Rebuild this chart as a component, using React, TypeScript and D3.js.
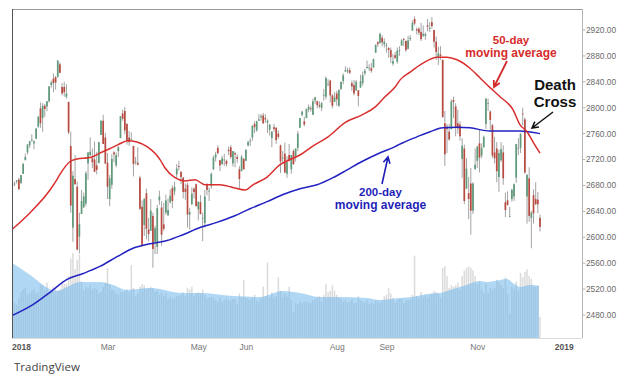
import React from "react";
import * as d3 from "d3";

// ---- Data: S&P 500 daily candles, Dec 26 2017 .. Dec 14 2018 (trading-day index -4 .. 240)
const startIndex = -4;

const opens = [
  2679, 2682, 2686, 2689,
  2684, 2698, 2719, 2731, 2742, 2751, 2745, 2752, 2771, 2799, 2784, 2803, 2802, 2810, 2835, 2845, 2847, 2848, 2867, 2832, 2832,
  2817, 2809, 2741, 2615, 2690, 2678, 2601, 2636, 2646, 2652, 2714, 2727, 2722, 2720, 2711, 2715, 2758, 2780, 2754,
  2715, 2659, 2681, 2731, 2711, 2733, 2753, 2791, 2795, 2775, 2754, 2751, 2741, 2716, 2715, 2692, 2647, 2619, 2668, 2612, 2610,
  2633, 2593, 2585, 2657, 2646, 2620, 2638, 2634, 2654, 2676, 2671, 2697, 2710, 2701, 2692, 2675, 2681, 2635, 2651, 2675, 2682,
  2643, 2654, 2629, 2622, 2681, 2671, 2679, 2705, 2723, 2738, 2719, 2713, 2720, 2718, 2735, 2739, 2714, 2730, 2724, 2705, 2702, 2721,
  2718, 2742, 2749, 2754, 2775, 2765, 2780, 2785, 2788, 2784, 2777, 2766, 2753, 2770, 2769, 2760, 2742, 2723, 2729, 2698, 2727,
  2705, 2733, 2724, 2738, 2769, 2789, 2779, 2784, 2797, 2799, 2789, 2811, 2810, 2804, 2800, 2820, 2817, 2836, 2842, 2819, 2809,
  2822, 2803, 2829, 2841, 2856, 2856, 2858, 2838, 2835, 2827, 2827, 2831, 2838, 2853, 2861, 2861, 2861, 2862, 2885, 2901, 2900, 2908, 2898,
  2897, 2892, 2889, 2868, 2881, 2871, 2889, 2896, 2906, 2903, 2891, 2906, 2919, 2937, 2921, 2922, 2917, 2911, 2911,
  2927, 2923, 2932, 2920, 2902, 2877, 2882, 2874, 2776, 2771, 2763, 2767, 2812, 2802, 2776, 2774, 2721, 2737, 2675, 2668, 2683, 2641, 2705,
  2718, 2745, 2726, 2739, 2775, 2807, 2794, 2773, 2731, 2737, 2693, 2719, 2731, 2654, 2657, 2633, 2659, 2663, 2692, 2737, 2738,
  2791, 2782, 2663, 2691, 2630, 2665, 2659, 2658, 2630,
];
const highs = [
  2683, 2686, 2688, 2692,
  2696, 2715, 2729, 2744, 2749, 2759, 2750, 2768, 2787, 2808, 2807, 2806, 2810, 2833, 2842, 2853, 2849, 2873, 2870, 2838, 2840,
  2836, 2809, 2763, 2702, 2727, 2686, 2638, 2673, 2669, 2702, 2731, 2754, 2737, 2748, 2732, 2747, 2780, 2789, 2761,
  2730, 2696, 2728, 2733, 2731, 2741, 2787, 2797, 2801, 2776, 2764, 2762, 2741, 2724, 2739, 2695, 2657, 2661, 2675, 2630, 2659,
  2638, 2618, 2650, 2672, 2656, 2653, 2666, 2660, 2674, 2680, 2686, 2713, 2718, 2702, 2693, 2683, 2684, 2645, 2677, 2677, 2683,
  2655, 2665, 2638, 2673, 2684, 2677, 2700, 2726, 2732, 2742, 2719, 2726, 2729, 2720, 2740, 2742, 2733, 2732, 2728, 2710, 2727, 2722,
  2736, 2749, 2753, 2773, 2779, 2780, 2790, 2790, 2792, 2790, 2782, 2775, 2764, 2775, 2770, 2765, 2743, 2733, 2746, 2725, 2744,
  2727, 2736, 2737, 2764, 2784, 2795, 2786, 2799, 2805, 2803, 2814, 2817, 2811, 2810, 2809, 2829, 2848, 2844, 2843, 2821, 2824,
  2826, 2829, 2840, 2853, 2864, 2862, 2862, 2842, 2843, 2843, 2827, 2851, 2856, 2860, 2873, 2867, 2869, 2876, 2898, 2903, 2916, 2912, 2907,
  2900, 2894, 2893, 2883, 2886, 2893, 2895, 2906, 2908, 2904, 2911, 2912, 2935, 2941, 2924, 2924, 2931, 2927, 2916,
  2937, 2932, 2940, 2920, 2910, 2894, 2895, 2874, 2795, 2775, 2775, 2813, 2817, 2807, 2797, 2779, 2753, 2743, 2722, 2693, 2707, 2685, 2737,
  2741, 2767, 2745, 2757, 2815, 2814, 2796, 2775, 2755, 2747, 2735, 2747, 2742, 2669, 2671, 2647, 2675, 2683, 2744, 2753, 2760,
  2800, 2785, 2698, 2708, 2641, 2674, 2685, 2670, 2635,
];
const lows = [
  2678, 2679, 2683, 2674,
  2682, 2698, 2719, 2728, 2738, 2747, 2736, 2752, 2769, 2769, 2763, 2786, 2795, 2808, 2831, 2824, 2828, 2846, 2853, 2819, 2817,
  2814, 2759, 2638, 2593, 2681, 2580, 2575, 2636, 2646, 2648, 2689, 2725, 2707, 2701, 2697, 2714, 2758, 2744, 2713,
  2659, 2648, 2675, 2716, 2708, 2724, 2753, 2780, 2759, 2743, 2741, 2750, 2694, 2712, 2711, 2642, 2586, 2602, 2597, 2594, 2610,
  2553, 2574, 2574, 2650, 2587, 2610, 2635, 2633, 2652, 2645, 2665, 2692, 2703, 2682, 2660, 2658, 2615, 2612, 2650, 2660, 2648,
  2626, 2635, 2594, 2615, 2665, 2656, 2675, 2704, 2717, 2728, 2702, 2712, 2710, 2709, 2727, 2721, 2709, 2708, 2715, 2676, 2702, 2705,
  2718, 2740, 2741, 2749, 2761, 2763, 2780, 2780, 2775, 2777, 2761, 2757, 2739, 2763, 2744, 2752, 2699, 2713, 2699, 2692, 2717,
  2698, 2712, 2717, 2733, 2769, 2787, 2771, 2784, 2793, 2794, 2789, 2806, 2799, 2799, 2795, 2811, 2813, 2833, 2808, 2799, 2809,
  2803, 2801, 2827, 2836, 2855, 2853, 2852, 2826, 2819, 2826, 2802, 2831, 2834, 2850, 2861, 2857, 2854, 2862, 2885, 2894, 2899, 2895, 2893,
  2885, 2877, 2869, 2865, 2875, 2868, 2880, 2896, 2895, 2886, 2890, 2903, 2919, 2927, 2913, 2912, 2903, 2909, 2905,
  2918, 2917, 2922, 2893, 2874, 2866, 2874, 2784, 2710, 2730, 2749, 2767, 2784, 2756, 2760, 2749, 2692, 2651, 2675, 2628, 2604, 2636, 2705,
  2707, 2700, 2722, 2738, 2767, 2795, 2766, 2722, 2714, 2685, 2670, 2716, 2681, 2631, 2649, 2631, 2655, 2656, 2684, 2727, 2730,
  2773, 2698, 2621, 2624, 2583, 2621, 2650, 2637, 2609,
];
const closes = [
  2681, 2683, 2688, 2674,
  2696, 2713, 2724, 2743, 2748, 2751, 2748, 2768, 2786, 2776, 2803, 2798, 2810, 2833, 2839, 2838, 2839, 2873, 2854, 2822, 2824,
  2822, 2762, 2649, 2695, 2682, 2581, 2620, 2656, 2663, 2699, 2731, 2732, 2716, 2701, 2704, 2747, 2780, 2744, 2714,
  2678, 2691, 2721, 2728, 2727, 2739, 2787, 2783, 2765, 2749, 2747, 2752, 2713, 2717, 2712, 2644, 2588, 2659, 2613, 2605, 2641,
  2582, 2614, 2645, 2663, 2604, 2613, 2657, 2642, 2664, 2656, 2678, 2706, 2709, 2693, 2670, 2670, 2635, 2639, 2667, 2670, 2648,
  2655, 2636, 2630, 2663, 2673, 2672, 2698, 2723, 2728, 2730, 2711, 2722, 2720, 2713, 2733, 2724, 2733, 2728, 2721, 2690, 2724, 2705,
  2735, 2747, 2749, 2772, 2770, 2779, 2782, 2787, 2776, 2782, 2780, 2774, 2763, 2767, 2750, 2755, 2717, 2723, 2700, 2716, 2718,
  2727, 2713, 2737, 2760, 2784, 2794, 2774, 2798, 2801, 2798, 2810, 2816, 2804, 2802, 2807, 2820, 2846, 2837, 2819, 2803, 2816,
  2813, 2827, 2840, 2850, 2858, 2858, 2854, 2833, 2822, 2840, 2818, 2841, 2850, 2857, 2863, 2862, 2857, 2875, 2897, 2898, 2914, 2901, 2902,
  2897, 2889, 2878, 2872, 2877, 2888, 2889, 2904, 2905, 2889, 2904, 2908, 2931, 2930, 2919, 2916, 2906, 2914, 2914,
  2925, 2923, 2926, 2902, 2886, 2884, 2880, 2786, 2728, 2767, 2751, 2810, 2809, 2769, 2768, 2756, 2741, 2656, 2706, 2659, 2641, 2683, 2712,
  2740, 2723, 2738, 2755, 2814, 2807, 2781, 2726, 2722, 2702, 2730, 2736, 2691, 2642, 2650, 2633, 2673, 2682, 2744, 2738, 2760,
  2790, 2700, 2696, 2633, 2638, 2637, 2651, 2651, 2616,
];
// volume (billions of shares)
const volumes = [
  2.4, 2.6, 2.5, 2.9,
  3.4, 3.6, 3.7, 3.2, 3.3, 3.5, 3.6, 3.3, 3.4, 4.0, 3.9, 3.6, 4.1, 3.4, 3.4, 3.8, 3.6, 3.5, 3.6, 4.2, 4.0,
  4.0, 4.6, 5.9, 6.3, 5.1, 5.8, 6.2, 4.2, 3.5, 3.8, 3.7, 3.9, 3.6, 3.7, 3.6, 3.3, 3.4, 3.8, 4.1,
  5.2, 4.0, 3.6, 3.5, 3.3, 3.2, 3.4, 3.4, 3.5, 3.6, 3.4, 5.4, 3.7, 3.1, 3.3, 3.8, 4.0, 3.9, 3.6, 3.7, 3.8,
  3.7, 3.4, 3.5, 3.2, 3.4, 3.1, 3.3, 2.9, 3.0, 2.9, 2.9, 3.1, 3.1, 3.2, 3.4, 3.1, 3.7, 3.6, 3.8, 3.1, 3.3,
  3.4, 3.3, 3.6, 3.2, 2.9, 3.0, 3.0, 3.0, 2.8, 2.7, 3.0, 2.7, 2.8, 3.0, 2.8, 2.8, 2.9, 2.9, 2.5, 3.3, 3.0, 4.3,
  3.0, 2.9, 2.8, 3.0, 3.2, 2.8, 2.7, 3.0, 3.8, 3.1, 5.6, 3.0, 3.4, 3.0, 3.1, 4.5, 3.5, 3.0, 3.3, 3.1, 3.8,
  2.8, 1.9, 2.6, 2.5, 2.7, 2.6, 2.7, 2.7, 2.6, 2.6, 2.8, 2.9, 3.0, 3.1, 2.7, 3.2, 4.0, 3.4, 3.5, 3.9, 3.5,
  3.2, 3.0, 2.9, 2.7, 2.8, 2.6, 2.7, 2.9, 2.6, 2.6, 3.1, 2.8, 2.7, 2.6, 2.8, 2.5, 2.6, 2.5, 2.8, 2.7, 2.6, 2.8, 3.1,
  3.2, 3.7, 3.3, 3.0, 2.6, 2.8, 2.9, 2.9, 2.6, 2.8, 2.8, 2.9, 3.2, 6.1, 3.1, 2.9, 3.4, 3.0, 3.2,
  3.0, 3.2, 3.3, 3.5, 3.4, 3.3, 3.0, 5.2, 5.3, 4.6, 3.7, 3.9, 3.8, 3.9, 4.1, 3.6, 4.6, 5.0, 5.2, 5.3, 5.2, 5.0, 4.6,
  4.0, 4.2, 3.6, 3.3, 4.0, 3.3, 3.7, 3.6, 3.7, 4.3, 4.1, 3.9, 3.7, 4.5, 3.3, 1.8, 3.8, 3.6, 4.2, 3.5, 4.8,
  4.5, 4.9, 5.1, 4.6, 4.4, 3.9, 3.8, 3.9, 1.55,
];

// volume moving average (read from the shaded area)
const volMAIndex = [-4.2, 5.5, 10.2, 16.6, 21.3, 27.3, 36.5, 42.5, 49, 59.7, 74.9, 82.8, 98, 110.5, 121, 129, 138, 147.5, 160, 166, 175, 181, 187.7, 193.8, 199.8, 206, 212, 215.5, 221.5, 224.7, 227.5, 230.8, 235.4, 239.5];
const volMAValue = [5.56, 4.52, 3.93, 3.48, 3.78, 4.15, 4.15, 3.93, 3.56, 3.70, 3.33, 3.33, 3.11, 3.04, 3.48, 3.33, 3.04, 3.04, 2.96, 2.81, 2.96, 3.04, 3.26, 3.33, 3.63, 3.93, 4.22, 4.15, 4.30, 4.37, 4.07, 3.78, 3.93, 3.85];

// 50-day moving average
const ma50Index = [-4.2, 4.2, 13.4, 16.6, 18, 22.7, 25.9, 31.9, 36.5, 41.2, 44.9, 49.5, 53.6, 58.3, 64.3, 66.6, 71.2, 75.8, 80.5, 85.1, 92, 98, 103.6, 107.3, 113.8, 119.8, 124.4, 129, 134.6, 142, 149.8, 157.7, 163.7, 168.3, 173, 175.3, 179.9, 185.9, 192.4, 197, 201.6, 207.6, 212.3, 216.9, 221.5, 227.5, 230.7, 234, 236.8, 240];
const ma50Value = [2612, 2638, 2673, 2689, 2697, 2717, 2721, 2723, 2730, 2737, 2743, 2749, 2747, 2740, 2720, 2707, 2692, 2687, 2689, 2681, 2681, 2677, 2673, 2681, 2693, 2712, 2720, 2727, 2740, 2755, 2777, 2789, 2801, 2817, 2832, 2843, 2855, 2869, 2878, 2878, 2874, 2861, 2846, 2831, 2817, 2797, 2774, 2763, 2747, 2730];

// 200-day moving average
const ma200Index = [-4.2, 5.5, 13.4, 21.3, 28.7, 36.5, 44.4, 51.8, 59.7, 67.5, 74.9, 82.8, 90.6, 98, 105.9, 113.8, 121.2, 129, 136.9, 144.3, 150.8, 157.7, 165.1, 173, 176.6, 183.1, 189.1, 195.1, 201.6, 207.6, 216.9, 230.7, 240];
const ma200Value = [2479, 2496, 2515, 2535, 2544, 2555, 2570, 2583, 2590, 2595, 2604, 2615, 2623, 2632, 2644, 2655, 2666, 2675, 2681, 2692, 2704, 2717, 2729, 2740, 2746, 2755, 2763, 2769, 2770, 2769, 2764, 2764, 2760];

const xTickLabels = ["2018", "Mar", "May", "Jun", "Aug", "Sep", "Nov", "2019"];
const xTickIndex = [0, 40, 82, 104, 146, 169, 211, 251];
const yTickValues = [2480, 2520, 2560, 2600, 2640, 2680, 2720, 2760, 2800, 2840, 2880, 2920];

// ---- Layout
const W = 633;
const H = 377;
const L = 12, R = 582, T = 9, B = 338;

const x = d3.scaleLinear().domain([0, 240]).range([21, 540]);
const y = d3.scaleLinear().domain([2480, 2920]).range([315, 30]);
const yv = d3.scaleLinear().domain([0, 7]).range([B, B - 94.5]);

const UP = "#5f9a7a";
const DOWN = "#b84a40";
const WICK = "#8c8c8c";

function arrow(x1: number, y1: number, x2: number, y2: number, len = 7, ang = 0.5) {
  const a = Math.atan2(y1 - y2, x1 - x2);
  const h1x = x2 + len * Math.cos(a + ang), h1y = y2 + len * Math.sin(a + ang);
  const h2x = x2 + len * Math.cos(a - ang), h2y = y2 + len * Math.sin(a - ang);
  return `M${x1},${y1}L${x2},${y2}M${h1x},${h1y}L${x2},${y2}L${h2x},${h2y}`;
}

export default function App() {
  const n = closes.length;
  const idx = d3.range(n).map((k) => k + startIndex);

  const volArea = d3
    .area<number>()
    .x((k) => x(volMAIndex[k]))
    .y0(B)
    .y1((k) => yv(volMAValue[k]))
    .curve(d3.curveMonotoneX)(d3.range(volMAIndex.length));

  const ma50 = d3
    .line<number>()
    .x((k) => x(ma50Index[k]))
    .y((k) => y(ma50Value[k]))
    .curve(d3.curveMonotoneX)(d3.range(ma50Index.length));

  const ma200 = d3
    .line<number>()
    .x((k) => x(ma200Index[k]))
    .y((k) => y(ma200Value[k]))
    .curve(d3.curveMonotoneX)(d3.range(ma200Index.length));

  const bw = 1.7;

  return (
    <svg
      width={W}
      height={H}
      viewBox={`0 0 ${W} ${H}`}
      style={{ position: "absolute", left: 0, top: 0, background: "#fff" }}
      fontFamily="Liberation Sans, Arial, sans-serif"
    >
      <defs>
        <clipPath id="plot">
          <rect x={L} y={T} width={R - L} height={B - T} />
        </clipPath>
      </defs>
      <rect x={0} y={0} width={W} height={H} fill="#fff" />

      <g clipPath="url(#plot)">
        {/* volume bars */}
        {idx.map((i, k) => (
          <rect
            key={"v" + k}
            x={x(i) - 0.75}
            y={yv(volumes[k])}
            width={1.5}
            height={B - yv(volumes[k])}
            fill="#cfcfcf"
            opacity={0.75}
          />
        ))}
        {/* volume MA area */}
        <path d={volArea || ""} fill="#6fb7ea" opacity={0.55} />

        {/* candles */}
        {idx.map((i, k) => {
          const o = opens[k], c = closes[k], h = highs[k], l = lows[k];
          const up = c >= o;
          const top = y(Math.max(o, c));
          const bot = y(Math.min(o, c));
          const cx = x(i);
          return (
            <g key={"c" + k}>
              <line x1={cx} x2={cx} y1={y(h)} y2={y(l)} stroke={WICK} strokeWidth={0.8} />
              <rect
                x={cx - bw / 2}
                y={top}
                width={bw}
                height={Math.max(0.8, bot - top)}
                fill={up ? UP : DOWN}
              />
            </g>
          );
        })}

        {/* moving averages */}
        <path d={ma200 || ""} fill="none" stroke="#2222c2" strokeWidth={1.5} />
        <path d={ma50 || ""} fill="none" stroke="#d92f2f" strokeWidth={1.5} />
      </g>

      {/* frame */}
      <line x1={L} x2={R} y1={T + 0.5} y2={T + 0.5} stroke="#9a9a9a" strokeWidth={1} />
      <line x1={L + 0.5} x2={L + 0.5} y1={T} y2={B} stroke="#555" strokeWidth={1} />
      <line x1={R + 0.5} x2={R + 0.5} y1={T} y2={B} stroke="#b4b4b4" strokeWidth={1} />
      <line x1={L} x2={R} y1={B + 0.5} y2={B + 0.5} stroke="#dcdcdc" strokeWidth={1} />

      {/* y axis */}
      {yTickValues.map((v) => (
        <g key={"y" + v}>
          <line x1={R + 0.5} x2={R + 3.5} y1={y(v)} y2={y(v)} stroke="#b4b4b4" />
          <text x={R + 4} y={y(v)} dy="0.35em" fontSize={8.3} fill="#6a6a6a">
            {v.toFixed(2)}
          </text>
        </g>
      ))}

      {/* x axis */}
      {xTickLabels.map((lab, k) => {
        const isYear = /^\d{4}$/.test(lab);
        return (
          <text
            key={"x" + lab}
            x={x(xTickIndex[k]) + 0.5}
            y={350}
            textAnchor="middle"
            fontSize={8.5}
            fontWeight={isYear ? "bold" : "normal"}
            fill={isYear ? "#555" : "#777"}
          >
            {lab}
          </text>
        );
      })}

      {/* annotations */}
      <g fontWeight="bold" fontFamily="Liberation Sans, Arial, sans-serif">
        <text x={511} y={43.5} textAnchor="middle" fontSize={11.5} fill="#d62b2b">50-day</text>
        <text x={511} y={57} textAnchor="middle" fontSize={12} fill="#d62b2b">moving average</text>
        <path d={arrow(507, 61, 494, 87)} fill="none" stroke="#d62b2b" strokeWidth={1.8} />

        <text x={555} y={89.5} textAnchor="middle" fontSize={15} fill="#111">Death</text>
        <text x={555} y={106.5} textAnchor="middle" fontSize={15} fill="#111">Cross</text>
        <path d={arrow(553, 112, 532, 128)} fill="none" stroke="#111" strokeWidth={1.5} />

        <text x={380.5} y={195.5} textAnchor="middle" fontSize={11.5} fill="#1f1fb8">200-day</text>
        <text x={380.5} y={209} textAnchor="middle" fontSize={12} fill="#1f1fb8">moving average</text>
        <path d={arrow(382, 184, 388, 157)} fill="none" stroke="#1f1fb8" strokeWidth={1.6} />
      </g>

      <text x={14} y={371} fontSize={11.5} fill="#444" fontFamily="Open Sans, sans-serif">
        TradingView
      </text>
    </svg>
  );
}
